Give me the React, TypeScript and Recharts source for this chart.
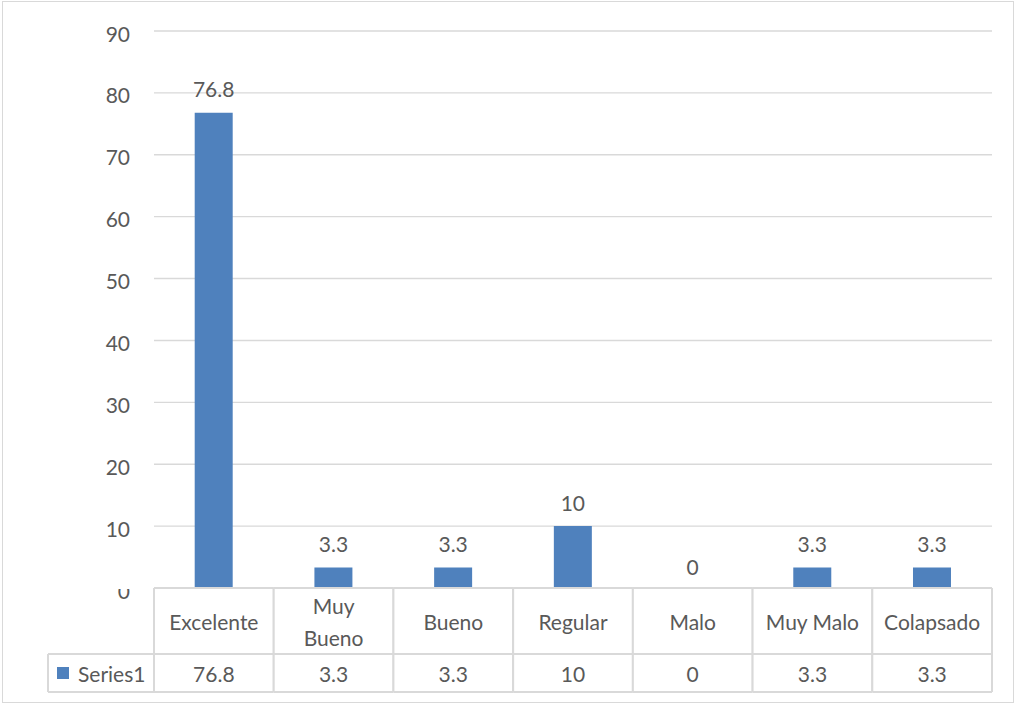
import React from "react";
import { BarChart, Bar, XAxis, YAxis, CartesianGrid, LabelList } from "recharts";

const categories = ["Excelente", "Muy Bueno", "Bueno", "Regular", "Malo", "Muy Malo", "Colapsado"];
const series1 = [76.8, 3.3, 3.3, 10, 0, 3.3, 3.3];
const yTicks = [0, 10, 20, 30, 40, 50, 60, 70, 80, 90];
const seriesName = "Series1";

const data = categories.map((c, i) => ({ name: c, value: series1[i] }));

const FONT = "Lato, 'Open Sans', sans-serif";
const FS = 21;
const TEXT = "#595959";
const GRID = "#d9d9d9";
const BLUE = "#4F81BD";
const CELL_W = (992 - 154) / categories.length;
const ROW1 = 66;
const ROW2 = 38;

const YTick = (props: any) => {
  const { y, payload } = props;
  const v = payload.value;
  const text = (
    <text x={130} y={y + 2} textAnchor="end" dominantBaseline="central" fontFamily={FONT} fontSize={FS} fill={TEXT}>
      {v}
    </text>
  );
  if (v === 0) {
    return (
      <g>
        <defs>
          <clipPath id="zeroClip">
            <rect x={0} y={y + 1} width={154} height={40} />
          </clipPath>
        </defs>
        <g clipPath="url(#zeroClip)">{text}</g>
      </g>
    );
  }
  return <g>{text}</g>;
};

const XTick = (props: any) => {
  const { x, y, payload, index } = props;
  const name: string = payload.value;
  const value = series1[index];
  const left = x - CELL_W / 2;
  const right = x + CELL_W / 2;
  const lines = name.length > 8 && name.includes(" ") ? name.split(" ") : [name];
  const midY = y + ROW1 / 2;
  return (
    <g>
      <rect x={left} y={y} width={CELL_W} height={ROW1 + ROW2} fill="#fff" />
      {value === 0 && (
        <text x={x} y={y - 22} textAnchor="middle" dominantBaseline="central" fontFamily={FONT} fontSize={FS} fill={TEXT}>
          {value}
        </text>
      )}
      {lines.map((l, i) => (
        <text
          key={i}
          x={x}
          y={midY + (i - (lines.length - 1) / 2) * 32}
          textAnchor="middle"
          dominantBaseline="central"
          fontFamily={FONT}
          fontSize={FS}
          fill={TEXT}
        >
          {l}
        </text>
      ))}
      <text x={x} y={y + ROW1 + ROW2 / 2} textAnchor="middle" dominantBaseline="central" fontFamily={FONT} fontSize={FS} fill={TEXT}>
        {value}
      </text>
      <line x1={left} x2={right} y1={y} y2={y} stroke={GRID} strokeWidth={2} />
      <line x1={left} x2={right} y1={y + ROW1} y2={y + ROW1} stroke={GRID} strokeWidth={2} />
      <line x1={left} x2={right} y1={y + ROW1 + ROW2} y2={y + ROW1 + ROW2} stroke={GRID} strokeWidth={2} />
      <line x1={left} x2={left} y1={y} y2={y + ROW1 + ROW2} stroke={GRID} strokeWidth={2} />
      <line x1={right} x2={right} y1={y} y2={y + ROW1 + ROW2} stroke={GRID} strokeWidth={2} />
      {index === 0 && (
        <g>
          <line x1={48} x2={left} y1={y + ROW1} y2={y + ROW1} stroke={GRID} strokeWidth={2} />
          <line x1={48} x2={left} y1={y + ROW1 + ROW2} y2={y + ROW1 + ROW2} stroke={GRID} strokeWidth={2} />
          <line x1={48} x2={48} y1={y + ROW1} y2={y + ROW1 + ROW2} stroke={GRID} strokeWidth={2} />
          <rect x={57} y={y + ROW1 + 13} width={12} height={12} fill={BLUE} />
          <text x={78} y={y + ROW1 + ROW2 / 2} dominantBaseline="central" fontFamily={FONT} fontSize={FS} fill={TEXT}>
            {seriesName}
          </text>
        </g>
      )}
    </g>
  );
};

const BarLabel = (props: any) => {
  const { x, y, width, height, value } = props;
  if (value === 0) return null;
  const top = Math.min(y, y + height);
  return (
    <text
      x={x + width / 2}
      y={top - 24}
      textAnchor="middle"
      dominantBaseline="central"
      fontFamily={FONT}
      fontSize={FS}
      fill={TEXT}
    >
      {value}
    </text>
  );
};

export default function App() {
  return (
    <div style={{ position: "absolute", left: 0, top: 0, width: 1020, height: 706, background: "#fff" }}>
      <div
        style={{
          position: "absolute",
          left: 2,
          top: 1,
          width: 1012,
          height: 702,
          border: `1.5px solid ${GRID}`,
          boxSizing: "border-box",
        }}
      />
      <BarChart
        width={1020}
        height={706}
        data={data}
        margin={{ top: 31, right: 28, bottom: 14, left: 0 }}
        barCategoryGap="34%"
      >
        <CartesianGrid vertical={false} horizontal stroke={GRID} strokeWidth={1.4} />
        <YAxis
          domain={[0, 90]}
          ticks={yTicks}
          width={154}
          axisLine={false}
          tickLine={false}
          tick={<YTick />}
          interval={0}
        />
        <XAxis
          dataKey="name"
          height={104}
          axisLine={false}
          tickLine={false}
          tickSize={0}
          tickMargin={0}
          interval={0}
          tick={<XTick />}
        />
        <Bar dataKey="value" fill={BLUE} isAnimationActive={false}>
          <LabelList dataKey="value" content={<BarLabel />} />
        </Bar>
      </BarChart>
    </div>
  );
}
